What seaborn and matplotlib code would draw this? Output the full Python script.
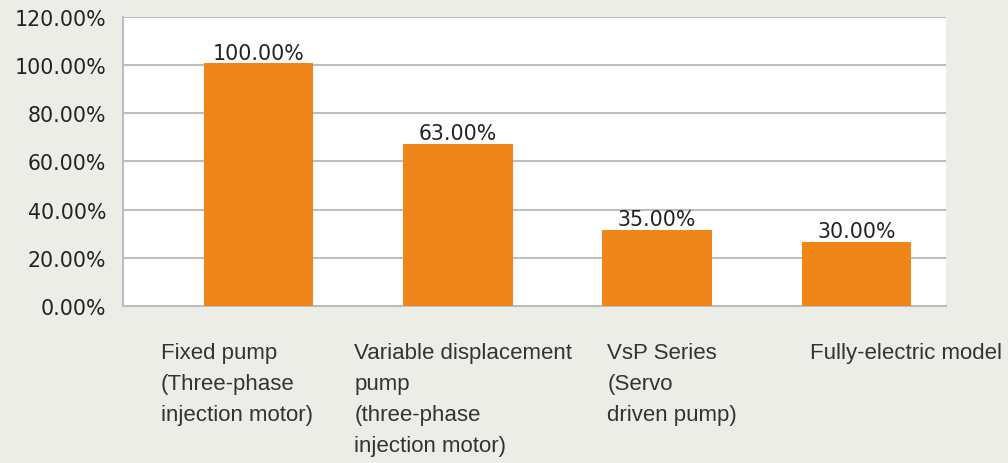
import matplotlib
matplotlib.use("Agg")
import matplotlib.pyplot as plt
import matplotlib.transforms as mtransforms
import seaborn as sns
import pandas as pd

# Data
categories = ["Fixed pump", "Variable displacement pump", "VsP Series", "Fully-electric model"]
category_labels = [
    "Fixed pump\n(Three-phase\ninjection motor)",
    "Variable displacement\npump\n(three-phase\ninjection motor)",
    "VsP Series\n(Servo\ndriven pump)",
    "Fully-electric model",
]
bar_heights = [100.8, 67.2, 31.5, 26.6]
bar_labels = ["100.00%", "63.00%", "35.00%", "30.00%"]
y_ticks = [0, 20, 40, 60, 80, 100, 120]
y_tick_labels = ["0.00%", "20.00%", "40.00%", "60.00%", "80.00%", "100.00%", "120.00%"]

# label x offsets relative to each bar centre (layout only)
label_dx = [-0.49, -0.52, -0.25, -0.235]

bg = "#EDEDE8"
orange = "#F0861A"
grid_col = "#BDBDBD"
text_col = "#222222"

sns.set_style("white")
plt.rcParams["font.family"] = ["DejaVu Sans"]

df = pd.DataFrame({"cat": categories, "val": bar_heights})

fig = plt.figure(figsize=(10.08, 4.64), dpi=100, facecolor=bg)
ax = fig.add_axes([0.122, 0.3384, 0.8165, 0.6228])
ax.set_facecolor("white")

sns.barplot(data=df, x="cat", y="val", order=categories, color=orange,
            width=0.55, saturation=1, linewidth=0, ax=ax, zorder=3)

ax.set_ylim(0, 120)
ax.set_xlim(-0.68, 3.45)
ax.set_yticks(y_ticks)
ax.set_yticklabels(y_tick_labels, fontsize=14.8, color=text_col)
for y in y_ticks[1:]:
    ax.axhline(y, color=grid_col, lw=1.5, zorder=1)

ax.set_xticks([-0.68])
ax.set_xticklabels([""])
ax.tick_params(axis="y", length=7, width=1.2, color=grid_col, pad=5)
ax.tick_params(axis="x", length=7, width=1.2, color=grid_col)
ax.set_xlabel("")
ax.set_ylabel("")

for s in ["top", "right"]:
    ax.spines[s].set_visible(False)
for s in ["left", "bottom"]:
    ax.spines[s].set_color(grid_col)
    ax.spines[s].set_linewidth(1.5)

# value labels above bars
for i, (h, lab) in enumerate(zip(bar_heights, bar_labels)):
    ax.annotate(lab, (i, h), xytext=(0, 0.5), textcoords="offset points",
                ha="center", va="bottom", fontsize=14.8, color=text_col, zorder=4)

# category labels below the axis, left aligned
trans = mtransforms.blended_transform_factory(ax.transData, ax.transAxes)
for i, (lab, dx) in enumerate(zip(category_labels, label_dx)):
    ax.text(i + dx, -0.125, lab, transform=trans, ha="left", va="top",
            fontsize=16, family=["Liberation Sans", "DejaVu Sans"],
            color="#333333", linespacing=1.62)

fig.savefig("out.png", dpi=100, facecolor=bg)
